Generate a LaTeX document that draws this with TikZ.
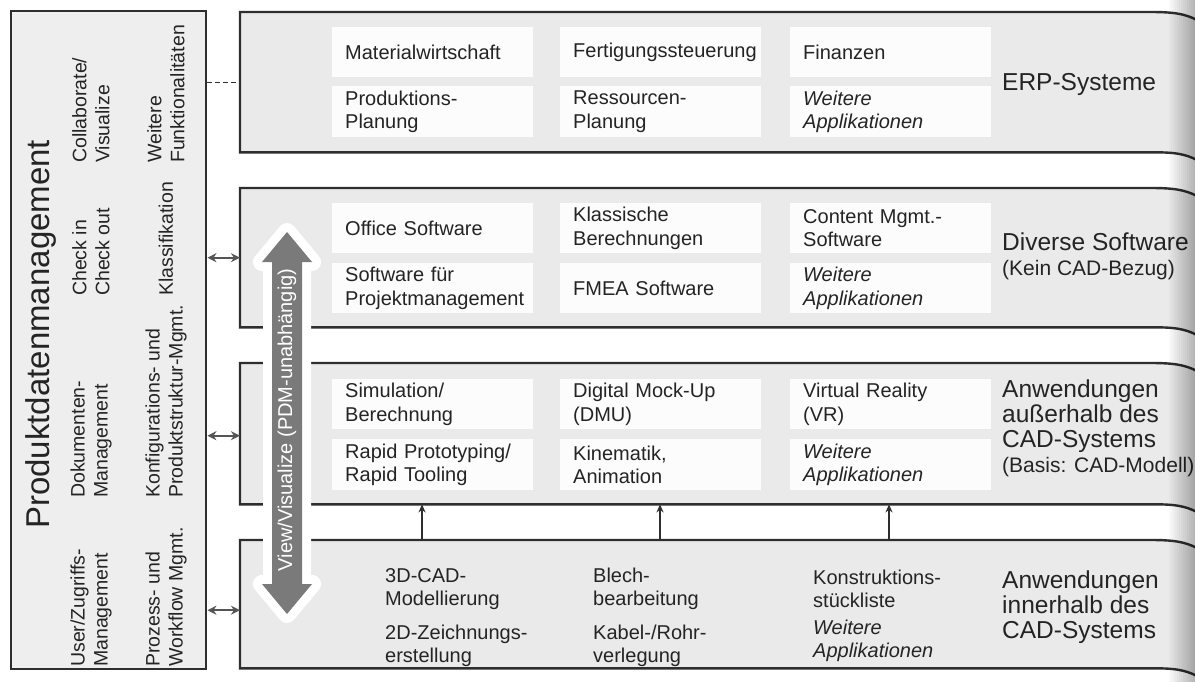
\documentclass[tikz,border=0pt]{standalone}
\usepackage{fontspec}
\setmainfont{Liberation Sans}
\usetikzlibrary{arrows.meta,calc}

\definecolor{ink}{HTML}{242424}
\definecolor{frame}{HTML}{2E2E2E}
\definecolor{panelgray}{HTML}{EAEAEA}
\definecolor{pdmgray}{HTML}{EEEEEE}
\definecolor{cellwhite}{HTML}{FCFCFC}
\definecolor{arrowgray}{HTML}{7A7A7A}
\definecolor{linkgray}{HTML}{555555}

\newcommand{\fsz}[2]{\fontsize{#1bp}{#2bp}\selectfont}

% one application layer: grey band with an open, slightly curled right end
\newcommand{\layer}[3]{%
  \fill[panelgray] (240,#2) -- (1150,#2) .. controls (1175,#2) and (1185,#2+2) .. (1197,#2+8)
    -- (1197,#3+8) .. controls (1185,#3+2) and (1175,#3) .. (1150,#3) -- (240,#3) -- cycle;
  \node[layeranchor, minimum height={(#3-#2)*1bp}] (#1) at (240,#2) {};
  \draw[frameline] (1197,#2+8) .. controls (1185,#2+2) and (1175,#2) .. (#1.north east)
    -- (#1.north west) -- (#1.south west) -- (#1.south east)
    .. controls (1175,#3) and (1185,#3+2) .. (1197,#3+8);
}

\begin{document}
\begin{tikzpicture}[x=1bp,y=-1bp,
  every node/.style={text=ink},
  frameline/.style={draw=frame, line width=2.4bp},
  layeranchor/.style={draw=none, fill=none, inner sep=0, anchor=north west, minimum width=910bp},
  pdmbox/.style={draw=frame, line width=2.4bp, fill=pdmgray, inner sep=0, anchor=north west},
  cell/.style={fill=cellwhite, anchor=north west, inner xsep=13bp, inner ysep=0,
    text width=175bp, align=left, font=\fsz{20}{23.5}},
  cellit/.style={cell, font=\fsz{20}{23.5}\itshape},
  plain/.style={anchor=west, align=left, inner sep=0, font=\fsz{20}{23.5}},
  plainit/.style={plain, font=\fsz{20}{23.5}\itshape},
  layerlabel/.style={anchor=west, align=left, inner sep=0, font=\fsz{24.5}{25}},
  vert/.style={rotate=90, anchor=west, align=left, inner sep=0, font=\fsz{19.5}{23}},
  link/.style={{Stealth[length=9bp,width=9bp]}-{Stealth[length=9bp,width=9bp]},
    draw=linkgray, line width=1.8bp},
  uplink/.style={-{Stealth[length=8bp,width=7bp]}, draw=frame, line width=1.4bp},
  bigarrow/.style={fill=arrowgray}
]
\useasboundingbox (0,0) rectangle (1195,682);
\fill[white] (0,0) rectangle (1195,682);

% ---------- PDM column ----------
\node[pdmbox, minimum width=195bp, minimum height=658bp] (pdm) at (10,10) {};
\node[vert, font=\fsz{33}{36}] (title) at (41,529) {Produktdatenmanagement};

\node[vert] (f1) at (91,667) {User/Zugriffs-\\Management};
\node[vert] (f2) at (91,498) {Dokumenten-\\Management};
\node[vert] (f3) at (91,296) {Check in\\Check out};
\node[vert] (f4) at (91,163) {Collaborate/\\Visualize};
\node[vert] (g1) at (166,667) {Prozess- und\\Workflow Mgmt.};
\node[vert] (g2) at (166,498) {Konfigurations- und\\Produktstruktur-Mgmt.};
\node[vert] (g3) at (166,296) {Klassifikation};
\node[vert] (g4) at (166,163) {Weitere\\Funktionalitäten};

% ---------- layers ----------
\layer{erp}{12}{152}
\layer{div}{188}{327}
\layer{aus}{363}{504}
\layer{inn}{540}{668}

% ERP systems
\node[cell, minimum height=50bp] (e11) at (332,27) {Materialwirtschaft};
\node[cell, minimum height=50bp] (e21) at (560,27) {Fertigungssteuerung};
\node[cell, minimum height=50bp] (e31) at (790,27) {Finanzen};
\node[cell, minimum height=51bp] (e12) at (332,86) {Produktions-\\Planung};
\node[cell, minimum height=51bp] (e22) at (560,86) {Ressourcen-\\Planung};
\node[cellit, minimum height=51bp] (e32) at (790,86) {Weitere\\Applikationen};
\node[layerlabel] (erpl) at (1002,84) {ERP-Systeme};

% miscellaneous software
\node[cell, minimum height=50bp] (d11) at (332,203) {Office Software};
\node[cell, minimum height=50bp] (d21) at (560,203) {Klassische\\Berechnungen};
\node[cell, minimum height=50bp] (d31) at (790,203) {Content Mgmt.-\\Software};
\node[cell, minimum height=50bp] (d12) at (332,263) {Software für\\Projektmanagement};
\node[cell, minimum height=50bp] (d22) at (560,263) {FMEA Software};
\node[cellit, minimum height=50bp] (d32) at (790,263) {Weitere\\Applikationen};
\node[layerlabel] (divl) at (1002,256) {Diverse Software\\{\fsz{21}{25}(Kein CAD-Bezug)}};

% applications outside the CAD system
\node[cell, minimum height=50bp] (a11) at (332,379) {Simulation/\\Berechnung};
\node[cell, minimum height=50bp] (a21) at (560,379) {Digital Mock-Up\\(DMU)};
\node[cell, minimum height=50bp] (a31) at (790,379) {Virtual Reality\\(VR)};
\node[cell, minimum height=51bp] (a12) at (332,439) {Rapid Prototyping/\\Rapid Tooling};
\node[cell, minimum height=51bp] (a22) at (560,439) {Kinematik,\\Animation};
\node[cellit, minimum height=51bp] (a32) at (790,439) {Weitere\\Applikationen};
\node[layerlabel] (ausl) at (1002,428) {Anwendungen\\außerhalb des\\CAD-Systems\\{\fsz{21}{25}(Basis: CAD-Modell)}};

% applications inside the CAD system
\node[plain] (i11) at (385,589) {3D-CAD-\\Modellierung};
\node[plain] (i12) at (385,646) {2D-Zeichnungs-\\erstellung};
\node[plain] (i21) at (593,589) {Blech-\\bearbeitung};
\node[plain] (i22) at (593,646) {Kabel-/Rohr-\\verlegung};
\node[plain] (i31) at (813,589) {Konstruktions-\\stückliste};
\node[plainit] (i32) at (813,641) {Weitere\\Applikationen};
\node[layerlabel] (innl) at (1002,607) {Anwendungen\\innerhalb des\\CAD-Systems};

% ---------- connectors ----------
\draw[draw=frame, line width=1.3bp, dash pattern=on 5bp off 3bp] (erp.west -| pdm.east) -- (erp.west);
\draw[link] (div.west -| pdm.east) -- (div.west);
\coordinate (l2) at ([yshift=-2bp]aus.west);
\draw[link] (l2 -| pdm.east) -- (l2);
\coordinate (l3) at ([yshift=-6bp]inn.west);
\draw[link] (l3 -| pdm.east) -- (l3);

\coordinate (u1) at (422,0);
\coordinate (u2) at (660,0);
\coordinate (u3) at (889,0);
\draw[uplink] (u1 |- inn.north) -- (u1 |- aus.south);
\draw[uplink] (u2 |- inn.north) -- (u2 |- aus.south);
\draw[uplink] (u3 |- inn.north) -- (u3 |- aus.south);

% ---------- View/Visualize double arrow with white halo ----------
\path[draw=white, fill=white, line width=18bp, line join=round]
  (287,232) -- (312,262) -- (302,262) -- (302,584) -- (312,584) -- (287,614)
  -- (262,584) -- (272,584) -- (272,262) -- (262,262) -- cycle;
\fill[bigarrow]
  (287,232) -- (312,262) -- (302,262) -- (302,584) -- (312,584) -- (287,614)
  -- (262,584) -- (272,584) -- (272,262) -- (262,262) -- cycle;
\node[rotate=90, inner sep=0, text=white, font=\fsz{20}{22}] (view) at (287,420) {View/Visualize (PDM-unabhängig)};

% ---------- shadow of the page bend on the right ----------
\foreach \i in {0,...,13}
  \fill[black, opacity=0.022*\i] (1167+2*\i,0) rectangle ++(2,682);
\end{tikzpicture}
\end{document}
